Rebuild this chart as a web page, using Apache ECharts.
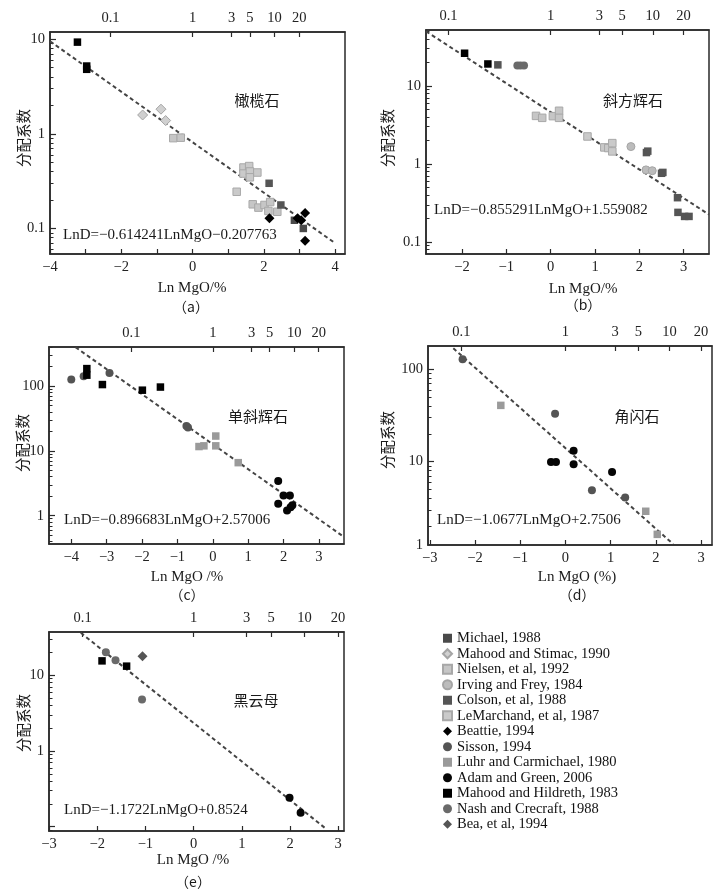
<!DOCTYPE html>
<html><head><meta charset="utf-8">
<script src="https://cdn.jsdelivr.net/npm/echarts@6/dist/echarts.min.js"></script>
<style>html,body{margin:0;padding:0;background:#fff}#c{width:720px;height:895px}</style>
</head><body><div id="c"></div>
<script>
// ---------- tick labels ----------
const topTickLabels = [0.1, 1, 3, 5, 10, 20];          // MgO (%) on top axes
const xTicksA = [-4, -3, -2, -1, 0, 1, 2, 3, 4];
const xLabelsA = [-4, -2, 0, 2, 4];
const xTicksB = [-2, -1, 0, 1, 2, 3];
const xTicksC = [-4, -3, -2, -1, 0, 1, 2, 3];
const xTicksD = [-3, -2, -1, 0, 1, 2, 3];
const xTicksE = [-3, -2, -1, 0, 1, 2, 3];
const yLabelsA = [0.1, 1, 10];
const yLabelsB = [0.1, 1, 10];
const yLabelsC = [1, 10, 100];
const yLabelsD = [10, 100];
const yLabelsE = [1, 10];

// ---------- panel (a) 橄榄石 ----------
const a_MahoodHildreth = [[-3.23, 9.3], [-2.97, 5.2], [-2.97, 4.8]];
const a_MahoodStimac = [[-1.40, 1.58], [-0.885, 1.82], [-0.755, 1.38]];
const a_Nielsen = [[-0.54, 0.90], [-0.33, 0.91], [1.69, 0.18], [1.85, 0.166], [2.02, 0.177], [2.18, 0.19], [2.13, 0.153], [2.38, 0.15]];
const a_LeMarchand = [[1.43, 0.44], [1.59, 0.456], [1.43, 0.38], [1.61, 0.40], [1.82, 0.39], [1.61, 0.347], [1.24, 0.244]];
const a_Colson = [[2.15, 0.30], [2.48, 0.177]];
const a_Michael = [[2.86, 0.122], [3.11, 0.10]];
const a_Beattie = [[2.16, 0.128], [2.95, 0.128], [3.05, 0.122], [3.16, 0.146], [3.16, 0.074]];
const fitA = [[-4, 9.5], [4, 0.07]];

// ---------- panel (b) 斜方辉石 ----------
const b_MahoodHildreth = [[-1.94, 26.2], [-1.415, 19.1]];
const b_Colson = [[-1.19, 18.6], [2.16, 1.40], [2.19, 1.46], [2.50, 0.76], [2.53, 0.78], [2.86, 0.37], [2.87, 0.24], [3.02, 0.213], [3.12, 0.213]];
const b_Nash = [[-0.75, 18.2], [-0.68, 18.2], [-0.60, 18.2]];
const b_Nielsen = [[-0.33, 4.13], [-0.19, 3.9], [0.05, 4.1], [0.19, 4.8], [0.19, 3.9]];
const b_LeMarchand = [[0.83, 2.25], [1.21, 1.63], [1.30, 1.6], [1.39, 1.85], [1.39, 1.45]];
const b_Irving = [[1.81, 1.67], [2.15, 0.84], [2.29, 0.82]];
const fitB = [[-2.81, 50], [3.57, 0.225]];

// ---------- panel (c) 单斜辉石 ----------
const c_Sisson = [[-4.0, 127], [-3.65, 143], [-2.92, 160], [-0.745, 24.3], [-0.70, 23]];
const c_MahoodHildreth = [[-3.56, 187], [-3.56, 148], [-3.12, 106], [-1.99, 86.8], [-1.48, 97]];
const c_Luhr = [[-0.39, 11.7], [-0.25, 12.0], [0.085, 12], [0.085, 17.0], [0.72, 6.6]];
const c_Adam = [[1.85, 3.45], [1.85, 1.53], [2.0, 2.05], [2.18, 2.05], [2.1, 1.2], [2.2, 1.35], [2.25, 1.45]];
const fitC = [[-3.88, 400], [3.71, 0.47]];

// ---------- panel (d) 角闪石 ----------
const d_Sisson = [[-2.275, 129], [-0.23, 33], [0.585, 4.9], [1.32, 4.1]];
const d_Luhr = [[-1.43, 40.7], [1.775, 2.9], [2.03, 1.63]];
const d_Adam = [[0.18, 13.1], [-0.32, 9.9], [-0.21, 9.9], [0.18, 9.35], [1.03, 7.7]];
const fitD = [[-2.48, 169], [2.38, 1.28]];

// ---------- panel (e) 黑云母 ----------
const e_Nash = [[-1.82, 20.1], [-1.62, 15.8], [-1.07, 4.8]];
const e_MahoodHildreth = [[-1.90, 15.5], [-1.39, 13.2]];
const e_Bea = [[-1.06, 17.8]];
const e_Adam = [[1.99, 0.242], [2.22, 0.153]];
const fitE = [[-2.34, 36.4], [2.745, 0.094]];

const legendNames = ['Michael, 1988', 'Mahood and Stimac, 1990', 'Nielsen, et al, 1992', 'Irving and Frey, 1984',
  'Colson, et al, 1988', 'LeMarchand, et al, 1987', 'Beattie, 1994', 'Sisson, 1994', 'Luhr and Carmichael, 1980',
  'Adam and Green, 2006', 'Mahood and Hildreth, 1983', 'Nash and Crecraft, 1988', 'Bea, et al, 1994'];

const minerals = ['橄榄石', '斜方辉石', '单斜辉石', '角闪石', '黑云母'];
const equations = ['LnD=\u22120.614241LnMgO\u22120.207763', 'LnD=\u22120.855291LnMgO+1.559082',
  'LnD=\u22120.896683LnMgO+2.57006', 'LnD=\u22121.0677LnMgO+2.7506', 'LnD=\u22121.1722LnMgO+0.8524'];
const xTitles = ['Ln MgO/%', 'Ln MgO/%', 'Ln MgO /%', 'Ln MgO (%)', 'Ln MgO /%'];
const captions = ['（a）', '（b）', '（c）', '（d）', '（e）'];
const yTitle = '分配系数';

// ---------- styles ----------
const styles = {
  'Michael, 1988': { symbol: 'rect', color: '#4a4a4a', size: 7.5 },
  'Mahood and Stimac, 1990': { symbol: 'diamond', color: '#d0d0d0', border: '#a5a5a5', size: 10 },
  'Nielsen, et al, 1992': { symbol: 'rect', color: '#c6c6c6', border: '#a8a8a8', size: 7.5 },
  'Irving and Frey, 1984': { symbol: 'circle', color: '#bcbcbc', border: '#a5a5a5', size: 8 },
  'Colson, et al, 1988': { symbol: 'rect', color: '#555555', size: 7.5 },
  'LeMarchand, et al, 1987': { symbol: 'rect', color: '#cacaca', border: '#a8a8a8', size: 7.5 },
  'Beattie, 1994': { symbol: 'diamond', color: '#000000', size: 10 },
  'Sisson, 1994': { symbol: 'circle', color: '#545454', size: 8 },
  'Luhr and Carmichael, 1980': { symbol: 'rect', color: '#9a9a9a', size: 7.5 },
  'Adam and Green, 2006': { symbol: 'circle', color: '#050505', size: 8 },
  'Mahood and Hildreth, 1983': { symbol: 'rect', color: '#000000', size: 7.5 },
  'Nash and Crecraft, 1988': { symbol: 'circle', color: '#6a6a6a', size: 8 },
  'Bea, et al, 1994': { symbol: 'diamond', color: '#555555', size: 10 }
};

const panels = [
  { grid: { left: 50, top: 32, width: 295, height: 222 }, xr: [-4, 4.28], yr: [0.0537, 11.9], xt: xTicksA, xl: xLabelsA, yl: yLabelsA,
    series: [['Mahood and Hildreth, 1983', a_MahoodHildreth], ['Mahood and Stimac, 1990', a_MahoodStimac], ['Nielsen, et al, 1992', a_Nielsen],
      ['LeMarchand, et al, 1987', a_LeMarchand], ['Colson, et al, 1988', a_Colson], ['Michael, 1988', a_Michael], ['Beattie, 1994', a_Beattie]], fit: fitA,
    mineral: [257, 100], eq: [63, 235], xTitle: [192, 288], cap: [191, 307], yTitle: [23, 138] },
  { grid: { left: 426, top: 30, width: 283, height: 224 }, xr: [-2.81, 3.57], yr: [0.0703, 52], xt: xTicksB, xl: xTicksB, yl: yLabelsB,
    series: [['Mahood and Hildreth, 1983', b_MahoodHildreth], ['Colson, et al, 1988', b_Colson], ['Nash and Crecraft, 1988', b_Nash],
      ['Nielsen, et al, 1992', b_Nielsen], ['LeMarchand, et al, 1987', b_LeMarchand], ['Irving and Frey, 1984', b_Irving]], fit: fitB,
    mineral: [633, 100], eq: [434, 210], xTitle: [583, 289], cap: [583, 305], yTitle: [387, 138] },
  { grid: { left: 49, top: 347, width: 295, height: 197 }, xr: [-4.63, 3.71], yr: [0.366, 403], xt: xTicksC, xl: xTicksC, yl: yLabelsC,
    series: [['Sisson, 1994', c_Sisson], ['Mahood and Hildreth, 1983', c_MahoodHildreth], ['Luhr and Carmichael, 1980', c_Luhr], ['Adam and Green, 2006', c_Adam]], fit: fitC,
    mineral: [258, 416], eq: [64, 520], xTitle: [187, 577], cap: [187, 595], yTitle: [22, 443] },
  { grid: { left: 428, top: 346, width: 284, height: 199 }, xr: [-3.04, 3.24], yr: [1.25, 179], xt: xTicksD, xl: xTicksD, yl: yLabelsD, bottomLabel: '1',
    series: [['Sisson, 1994', d_Sisson], ['Luhr and Carmichael, 1980', d_Luhr], ['Adam and Green, 2006', d_Adam]], fit: fitD,
    mineral: [637, 416], eq: [437, 520], xTitle: [577, 577], cap: [577, 595], yTitle: [387, 440] },
  { grid: { left: 49, top: 632, width: 295, height: 199 }, xr: [-3.0, 3.12], yr: [0.0877, 37.3], xt: xTicksE, xl: xTicksE, yl: yLabelsE,
    series: [['Nash and Crecraft, 1988', e_Nash], ['Mahood and Hildreth, 1983', e_MahoodHildreth], ['Bea, et al, 1994', e_Bea], ['Adam and Green, 2006', e_Adam]], fit: fitE,
    mineral: [256, 700], eq: [64, 810], xTitle: [193, 860], cap: [193, 882], yTitle: [23, 723] }
];

const SERIF = "'Liberation Serif','Times New Roman','Noto Sans CJK SC',serif";
const CJK = "'Noto Sans CJK SC','Liberation Serif',sans-serif";
const AX = '#2a2a2a';
const minus = v => String(v).replace('-', '\u2212');

function logTicks(min, max, majors) {
  const res = [];
  for (let d = Math.floor(Math.log10(min)); d <= Math.ceil(Math.log10(max)); d++) {
    for (let k = 1; k <= 9; k++) {
      const v = parseFloat((k * Math.pow(10, d)).toPrecision(6));
      if (v >= min && v <= max && (majors ? k === 1 : k !== 1)) res.push(v);
    }
  }
  return res;
}

const grid = [], xAxis = [], yAxis = [], series = [], graphic = [];
panels.forEach((p, i) => {
  grid.push(Object.assign({ show: true, borderColor: AX, borderWidth: 1.5, containLabel: false }, p.grid));
  const lblStyle = { fontFamily: SERIF, fontSize: 14.5, color: '#222' };
  xAxis.push({
    type: 'value', gridIndex: i, position: 'bottom', min: p.xr[0], max: p.xr[1],
    axisLine: { show: true, onZero: false, lineStyle: { color: AX, width: 1.5 } },
    axisTick: { show: true, inside: true, length: 5, customValues: p.xt, lineStyle: { color: AX, width: 1.2 } },
    axisLabel: Object.assign({ customValues: p.xl, margin: 6, formatter: v => minus(v) }, lblStyle),
    splitLine: { show: false }
  });
  const topPos = topTickLabels.map(t => Math.log(t));
  xAxis.push({
    type: 'value', gridIndex: i, position: 'top', min: p.xr[0], max: p.xr[1],
    axisLine: { show: true, onZero: false, lineStyle: { color: AX, width: 1.5 } },
    axisTick: { show: true, inside: true, length: 5, customValues: topPos, lineStyle: { color: AX, width: 1.2 } },
    axisLabel: Object.assign({ customValues: topPos, margin: 7, formatter: v => {
      const t = topTickLabels.find(t => Math.abs(Math.log(t) - v) < 1e-6); return t === undefined ? '' : String(t); } }, lblStyle),
    splitLine: { show: false }
  });
  const labelVals = p.bottomLabel ? [p.yr[0]].concat(p.yl) : p.yl;
  yAxis.push({
    type: 'log', logBase: 10, gridIndex: i, position: 'left', min: p.yr[0], max: p.yr[1],
    axisLine: { show: true, onZero: false, lineStyle: { color: AX, width: 1.5 } },
    axisTick: { show: true, inside: true, length: 6, customValues: logTicks(p.yr[0], p.yr[1], true), lineStyle: { color: AX, width: 1.2 } },
    axisLabel: Object.assign({ customValues: labelVals, margin: 5, formatter: v => (p.bottomLabel && v === p.yr[0]) ? p.bottomLabel : String(v) }, lblStyle),
    splitLine: { show: false }, minorTick: { show: false }
  });
  yAxis.push({
    type: 'log', logBase: 10, gridIndex: i, position: 'left', min: p.yr[0], max: p.yr[1],
    axisLine: { show: false, onZero: false }, axisLabel: { show: false }, splitLine: { show: false },
    axisTick: { show: true, inside: true, length: 3.5, customValues: logTicks(p.yr[0], p.yr[1], false), lineStyle: { color: AX, width: 1 } }
  });
  series.push({
    type: 'line', name: 'fit' + i, xAxisIndex: 2 * i, yAxisIndex: 2 * i, data: p.fit, symbol: 'none', silent: true, z: 2,
    lineStyle: { color: '#444', width: 2, type: [4, 3] }, clip: true
  });
  p.series.forEach(([name, data]) => {
    const s = styles[name];
    series.push({
      type: 'scatter', name, xAxisIndex: 2 * i, yAxisIndex: 2 * i, data, symbol: s.symbol, symbolSize: s.size, z: 3,
      itemStyle: { color: s.color, borderColor: s.border || s.color, borderWidth: s.border ? 1 : 0, opacity: 1 }
    });
  });
  const txt = (text, x, y, opt) => Object.assign({ type: 'text', x, y, silent: true,
    style: Object.assign({ text, fill: '#1a1a1a', fontFamily: SERIF, fontSize: 15, align: 'center', verticalAlign: 'middle' }, opt || {}) });
  graphic.push(txt(minerals[i], p.mineral[0], p.mineral[1], { fontFamily: CJK, fontSize: 15 }));
  graphic.push(txt(equations[i], p.eq[0], p.eq[1], { align: 'left', fontSize: 15 }));
  graphic.push(txt(xTitles[i], p.xTitle[0], p.xTitle[1], { fontSize: 15 }));
  graphic.push(txt(captions[i], p.cap[0], p.cap[1], { fontFamily: CJK, fontSize: 14 }));
  const yt = txt(yTitle, p.yTitle[0], p.yTitle[1], { fontFamily: CJK, fontSize: 14.5 });
  yt.rotation = Math.PI / 2;
  graphic.push(yt);
});

const option = {
  animation: false,
  backgroundColor: '#fff',
  grid, xAxis, yAxis, series, graphic,
  legend: {
    orient: 'vertical', left: 437, top: 626, itemWidth: 9, itemHeight: 9, itemGap: 1, selectedMode: false,
    textStyle: { fontFamily: SERIF, fontSize: 14.5, color: '#111', lineHeight: 14 },
    data: legendNames.map(n => ({ name: n, icon: styles[n].symbol }))
  }
};
const chart = echarts.init(document.getElementById('c'), null, { renderer: 'canvas' });
chart.setOption(option);
</script></body></html>
